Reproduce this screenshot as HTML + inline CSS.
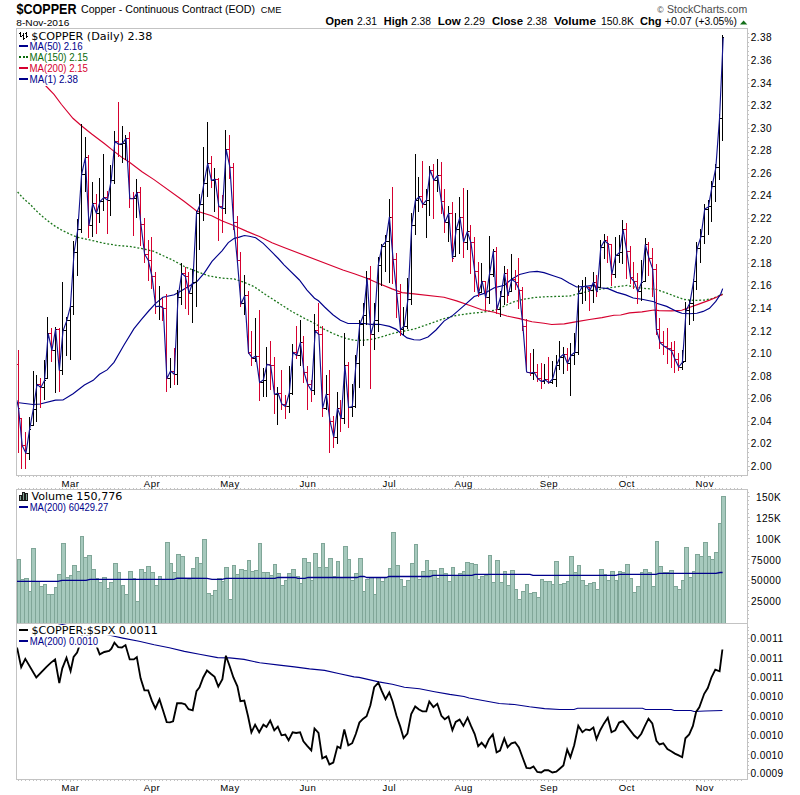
<!DOCTYPE html>
<html><head><meta charset="utf-8"><title>$COPPER - StockCharts</title>
<style>html,body{margin:0;padding:0;background:#fff}svg text{font-family:"Liberation Sans",Arial,sans-serif}</style>
</head><body>
<svg width="800" height="795" viewBox="0 0 800 795" style="display:block;font-family:'Liberation Sans',Arial,sans-serif">
<rect width="800" height="795" fill="#fff"/>
<defs>
<clipPath id="c1"><rect x="17" y="29" width="730" height="446"/></clipPath>
<clipPath id="c3"><rect x="17" y="623.5" width="730" height="155"/></clipPath>
</defs>
<g clip-path="url(#c1)">
<polyline points="17.6,192.0 24.1,199.2 30.1,204.2 35.7,210.3 41.2,215.3 47.2,220.4 53.8,225.4 60.3,229.4 67.4,232.9 71.9,235.0 77.3,237.2 91.7,240.4 104.3,243.3 116.9,245.4 129.5,246.4 142.0,248.6 154.0,251.4 159.2,253.9 171.7,259.6 184.3,266.5 196.9,271.6 209.2,276.0 221.7,278.1 234.3,279.0 244.4,282.4 254.4,286.8 265.4,294.5 278.0,302.6 290.6,310.8 303.2,317.7 315.8,324.0 321.5,327.9 332.9,333.5 344.2,337.9 354.3,340.4 364.3,340.2 374.4,338.9 384.4,336.0 394.5,332.9 404.6,331.0 414.0,329.1 429.0,324.0 444.0,318.6 456.6,315.4 469.2,313.5 481.7,312.3 494.3,310.4 504.4,306.0 514.4,301.6 524.5,299.1 534.6,297.5 544.0,296.8 554.0,296.5 569.1,296.1 579.2,293.6 591.7,290.5 604.3,288.6 616.9,286.7 627.0,285.4 634.5,287.0 646.6,288.6 655.4,289.1 665.4,292.6 675.5,296.4 684.3,299.5 694.4,300.4 704.4,300.1 712.0,298.6 719.5,295.7 722.7,294.1" fill="none" stroke="#1a751a" stroke-width="1.3" stroke-dasharray="1.9,1.9"/>
<polyline points="16.5,50.0 45.0,85.0 54.0,94.4 61.5,104.5 72.9,118.3 81.4,125.8 91.7,134.0 104.3,143.5 114.4,151.6 122.6,157.9 129.5,162.3 142.0,171.8 154.0,179.6 184.0,201.3 196.6,211.0 211.7,215.7 221.7,220.8 234.3,225.8 246.9,231.4 259.5,236.5 272.0,242.8 284.0,247.5 342.9,270.0 354.3,273.8 366.8,278.2 379.4,283.8 392.0,288.9 402.1,292.6 414.0,293.9 444.0,297.2 456.6,300.9 469.2,305.3 481.7,309.7 494.3,312.3 506.9,316.0 519.5,318.6 532.0,321.7 544.0,323.2 551.7,324.5 564.3,323.9 576.9,321.6 589.5,319.5 602.0,317.6 614.0,315.3 620.7,315.0 629.5,312.9 642.0,311.9 654.0,310.0 659.2,310.6 671.7,310.8 681.8,310.2 690.6,307.0 699.4,303.9 709.5,300.1 717.0,297.0 722.7,294.5" fill="none" stroke="#d6002f" stroke-width="1.15"/>
<polyline points="16.5,402.4 33.0,404.5 40.0,404.0 55.5,400.1 63.0,400.0 73.1,393.8 84.4,385.0 93.2,380.3 99.5,374.3 107.1,369.9 114.0,362.4 124.0,345.0 134.0,328.7 141.5,319.3 149.1,310.5 155.4,303.6 162.9,297.3 174.3,294.8 181.8,290.4 189.3,286.0 196.9,281.6 204.4,272.8 212.0,261.4 222.0,250.8 228.3,242.6 234.3,238.4 239.3,237.1 244.4,235.5 249.4,236.2 255.7,237.7 263.2,243.4 272.0,252.2 278.3,258.5 284.0,264.8 299.4,280.0 307.0,290.1 314.5,298.2 318.5,300.8 324.6,307.0 332.9,314.7 340.4,320.3 348.0,323.5 356.8,323.5 364.3,323.5 370.6,324.3 379.4,324.3 389.5,326.4 395.8,329.1 402.1,334.2 407.1,337.9 414.0,339.8 420.0,340.0 428.0,337.0 436.0,330.0 444.0,321.1 452.8,315.4 462.9,306.6 474.2,296.5 484.3,293.4 494.3,287.7 504.4,285.2 511.9,278.9 519.5,274.5 529.5,272.0 537.1,271.4 544.0,272.6 554.0,276.0 561.5,278.5 569.1,282.9 576.6,287.0 585.4,286.4 593.0,285.4 600.5,287.7 608.1,288.6 616.9,292.4 625.7,294.9 633.2,298.0 642.0,299.3 654.0,301.8 656.6,303.3 666.7,306.4 676.8,311.4 681.8,313.3 689.3,313.7 696.9,313.3 703.2,311.4 709.5,308.3 715.8,301.4 720.8,293.8 722.7,288.6" fill="none" stroke="#00008b" stroke-width="1.15"/>
<path d="M18.5 350.1V452.7M16.0 364.5H18.5M18.5 408.5H20.0M21.5 418.0V468.8M19.0 418.5H21.5M21.5 445.5H23.0M25.5 432.2V468.8M23.0 445.5H25.5M25.5 453.5H27.0M40.5 378.0V407.7M38.0 384.5H40.5M40.5 387.5H42.0M51.5 327.8V361.8M49.0 333.5H51.5M51.5 350.5H53.0M59.5 327.8V392.0M57.0 329.5H59.5M59.5 370.5H61.0M88.5 155.0V237.6M86.0 157.5H88.5M88.5 225.5H90.0M96.5 193.8V233.5M94.0 203.5H96.5M96.5 213.5H98.0M107.5 190.7V233.5M105.0 197.5H107.5M107.5 200.5H109.0M118.5 102.2V156.7M116.0 141.5H118.5M118.5 144.5H120.0M129.5 132.1V207.7M127.0 138.5H129.5M129.5 198.5H131.0M133.5 192.0V235.7M131.0 198.5H133.5M133.5 198.5H135.0M140.5 186.9V245.5M138.0 192.5H140.5M140.5 224.5H142.0M144.5 218.1V262.7M142.0 224.5H144.5M144.5 254.5H146.0M148.5 240.0V280.7M146.0 254.5H148.5M148.5 260.5H150.0M151.5 237.0V288.5M149.0 260.5H151.5M151.5 276.5H153.0M155.5 272.1V313.7M153.0 276.5H155.5M155.5 306.5H157.0M162.5 297.9V320.7M160.0 306.5H162.5M162.5 308.5H164.0M166.5 294.2V391.8M164.0 308.5H166.5M166.5 378.5H168.0M174.5 347.7V384.8M172.0 371.5H174.5M174.5 374.5H176.0M185.5 267.1V309.0M183.0 273.5H185.5M185.5 276.5H187.0M188.5 272.1V314.9M186.0 276.5H188.5M188.5 293.5H190.0M211.5 155.9V187.7M209.0 163.5H211.5M211.5 180.5H213.0M218.5 177.9V240.9M216.0 179.5H218.5M218.5 206.5H220.0M222.5 194.9V233.0M220.0 206.5H222.5M222.5 208.5H224.0M229.5 134.9V178.6M227.0 149.5H229.5M229.5 167.5H231.0M233.5 162.8V229.6M231.0 167.5H233.5M233.5 222.5H235.0M237.5 216.1V262.0M235.0 222.5H237.5M237.5 260.5H239.0M240.5 252.2V306.8M238.0 260.5H240.5M240.5 303.5H242.0M248.5 291.1V353.6M246.0 295.5H248.5M248.5 352.5H250.0M251.5 330.9V365.8M249.0 352.5H251.5M251.5 358.5H253.0M259.5 309.9V400.5M257.0 356.5H259.5M259.5 382.5H261.0M270.5 341.0V389.6M268.0 364.5H270.5M270.5 365.5H272.0M274.5 357.0V413.5M272.0 365.5H274.5M274.5 394.5H276.0M281.5 370.0V409.7M279.0 393.5H281.5M281.5 404.5H283.0M285.5 395.2V418.5M283.0 404.5H285.5M285.5 406.5H287.0M296.5 325.9V359.0M294.0 352.5H296.5M296.5 355.5H298.0M303.5 336.0V382.6M301.0 342.5H303.5M303.5 372.5H305.0M307.5 366.0V409.7M305.0 372.5H307.5M307.5 384.5H309.0M311.5 379.5V401.5M309.0 384.5H311.5M311.5 390.5H313.0M318.5 302.9V335.3M316.0 330.5H318.5M318.5 334.5H320.0M322.5 325.9V416.6M320.0 334.5H322.5M322.5 408.5H324.0M329.5 370.0V452.8M327.0 394.5H329.5M329.5 421.5H331.0M333.5 416.0V447.5M331.0 421.5H333.5M333.5 437.5H335.0M340.5 400.3V431.7M338.0 408.5H340.5M340.5 418.5H342.0M348.5 362.0V427.7M346.0 365.5H348.5M348.5 407.5H350.0M370.5 266.1V388.7M368.0 278.5H370.5M370.5 334.5H372.0M392.5 187.2V284.3M390.0 217.5H392.5M392.5 259.5H394.0M396.5 252.9V317.8M394.0 259.5H396.5M396.5 293.5H398.0M400.5 284.0V335.7M398.0 293.5H400.5M400.5 329.5H402.0M422.5 160.8V207.7M420.0 196.5H422.5M422.5 204.5H424.0M433.5 164.0V218.5M431.0 170.5H433.5M433.5 180.5H435.0M441.5 162.1V213.5M439.0 175.5H441.5M441.5 201.5H443.0M444.5 188.9V233.4M442.0 201.5H444.5M444.5 222.5H446.0M452.5 202.0V262.4M450.0 213.5H452.5M452.5 258.5H454.0M463.5 187.8V257.5M461.0 217.5H463.5M463.5 242.5H465.0M470.5 225.0V273.7M468.0 231.5H470.5M470.5 242.5H472.0M474.5 237.2V291.5M472.0 242.5H474.5M474.5 271.5H476.0M478.5 262.3V297.2M476.0 271.5H478.5M478.5 293.5H480.0M485.5 280.8V309.7M483.0 281.5H485.5M485.5 297.5H487.0M496.5 247.0V314.2M494.0 251.5H496.5M496.5 309.5H498.0M507.5 269.1V302.6M505.0 273.5H507.5M507.5 295.5H509.0M515.5 270.1V290.0M513.0 279.5H515.5M515.5 282.5H517.0M518.5 258.1V308.5M516.0 282.5H518.5M518.5 290.5H520.0M522.5 287.1V330.5M520.0 290.5H522.5M522.5 326.5H524.0M526.5 318.9V372.3M524.0 326.5H526.5M526.5 372.5H528.0M530.5 352.8V375.5M528.0 372.5H530.5M530.5 373.5H532.0M537.5 363.9V381.8M535.0 372.5H537.5M537.5 378.5H539.0M541.5 362.9V388.7M539.0 378.5H541.5M541.5 381.5H543.0M548.5 356.9V383.6M546.0 379.5H548.5M548.5 382.5H550.0M567.5 348.1V370.7M565.0 354.5H567.5M567.5 363.5H569.0M589.5 287.3V310.8M587.0 287.5H589.5M589.5 290.5H591.0M596.5 275.1V297.4M594.0 282.5H596.5M596.5 291.5H598.0M607.5 236.1V262.5M605.0 240.5H607.5M607.5 243.5H609.0M611.5 244.9V285.7M609.0 244.5H611.5M611.5 274.5H613.0M626.5 223.2V278.5M624.0 229.5H626.5M626.5 251.5H628.0M630.5 245.8V283.6M628.0 251.5H630.5M630.5 277.5H632.0M633.5 262.2V288.6M631.0 277.5H633.5M633.5 281.5H635.0M637.5 273.1V303.7M635.0 281.5H637.5M637.5 291.5H639.0M648.5 242.0V276.0M646.0 244.5H648.5M648.5 258.5H650.0M652.5 248.0V297.4M650.0 258.5H652.5M652.5 269.5H654.0M656.5 264.0V335.3M654.0 269.5H656.5M656.5 329.5H658.0M659.5 318.4V349.4M657.0 329.5H659.5M659.5 342.5H661.0M663.5 330.9V354.5M661.0 342.5H663.5M663.5 346.5H665.0M667.5 328.1V364.3M665.0 346.5H667.5M667.5 348.5H669.0M671.5 342.3V368.4M669.0 348.5H671.5M671.5 350.5H673.0M674.5 341.3V372.5M672.0 350.5H674.5M674.5 359.5H676.0M678.5 353.0V370.6M676.0 359.5H678.5M678.5 367.5H680.0" stroke="#d6002f" stroke-width="1" fill="none" shape-rendering="crispEdges"/>
<path d="M29.5 417.1V459.5M27.0 453.5H29.5M29.5 429.5H31.0M33.5 371.0V425.7M31.0 425.5H33.5M33.5 409.5H35.0M36.5 375.2V421.5M34.0 409.5H36.5M36.5 384.5H38.0M44.5 359.9V399.7M42.0 387.5H44.5M44.5 380.5H46.0M47.5 317.1V378.7M45.0 378.5H47.5M47.5 333.5H49.0M55.5 327.2V392.6M53.0 350.5H55.5M55.5 329.5H57.0M62.5 281.9V374.6M60.0 370.5H62.5M62.5 330.5H64.0M66.5 316.5V355.8M64.0 330.5H66.5M66.5 320.5H68.0M70.5 304.0V359.5M68.0 320.5H70.5M70.5 306.5H72.0M73.5 241.0V314.6M71.0 306.5H73.5M73.5 252.5H75.0M77.5 219.2V275.6M75.0 252.5H77.5M77.5 229.5H79.0M81.5 124.0V232.6M79.0 229.5H81.5M81.5 174.5H83.0M85.5 137.2V191.6M83.0 174.5H85.5M85.5 157.5H87.0M92.5 182.1V236.6M90.0 225.5H92.5M92.5 203.5H94.0M99.5 178.1V222.5M97.0 213.5H99.5M99.5 201.5H101.0M103.5 154.2V211.4M101.0 201.5H103.5M103.5 197.5H105.0M110.5 165.1V215.8M108.0 200.5H110.5M110.5 180.5H112.0M114.5 130.9V183.7M112.0 180.5H114.5M114.5 141.5H116.0M122.5 126.1V162.7M120.0 144.5H122.5M122.5 143.5H124.0M125.5 135.0V160.4M123.0 143.5H125.5M125.5 138.5H127.0M136.5 178.9V217.7M134.0 198.5H136.5M136.5 192.5H138.0M159.5 286.0V319.5M157.0 306.5H159.5M159.5 306.5H161.0M170.5 357.8V387.7M168.0 378.5H170.5M170.5 371.5H172.0M177.5 290.1V384.8M175.0 374.5H177.5M177.5 297.5H179.0M181.5 263.3V304.8M179.0 297.5H181.5M181.5 273.5H183.0M192.5 269.0V322.7M190.0 293.5H192.5M192.5 282.5H194.0M196.5 210.7V306.7M194.0 282.5H196.5M196.5 213.5H198.0M199.5 194.0V249.7M197.0 213.5H199.5M199.5 204.5H201.0M203.5 146.9V220.8M201.0 204.5H203.5M203.5 183.5H205.0M207.5 121.9V196.8M205.0 183.5H207.5M207.5 163.5H209.0M214.5 167.9V212.0M212.0 180.5H214.5M214.5 179.5H216.0M225.5 129.7V213.6M223.0 208.5H225.5M225.5 149.5H227.0M244.5 275.1V314.6M242.0 303.5H244.5M244.5 295.5H246.0M255.5 317.7V361.8M253.0 358.5H255.5M255.5 356.5H257.0M263.5 368.2V396.7M261.0 382.5H263.5M263.5 380.5H265.0M266.5 347.0V396.7M264.0 380.5H266.5M266.5 364.5H268.0M277.5 387.0V424.5M275.0 394.5H277.5M277.5 393.5H279.0M289.5 366.0V412.6M287.0 406.5H289.5M289.5 393.5H291.0M292.5 343.9V394.6M290.0 393.5H292.5M292.5 352.5H294.0M300.5 320.0V365.8M298.0 355.5H300.5M300.5 342.5H302.0M314.5 314.0V394.6M312.0 390.5H314.5M314.5 330.5H316.0M326.5 375.1V409.7M324.0 408.5H326.5M326.5 394.5H328.0M337.5 392.1V443.6M335.0 437.5H337.5M337.5 408.5H339.0M344.5 332.9V423.5M342.0 418.5H344.5M344.5 365.5H346.0M352.5 383.9V416.6M350.0 407.5H352.5M352.5 406.5H354.0M355.5 354.9V408.4M353.0 406.5H355.5M355.5 363.5H357.0M359.5 320.3V387.7M357.0 363.5H359.5M359.5 324.5H361.0M363.5 303.3V345.8M361.0 324.5H363.5M363.5 315.5H365.0M366.5 271.2V325.3M364.0 315.5H366.5M366.5 278.5H368.0M374.5 303.3V349.5M372.0 334.5H374.5M374.5 320.5H376.0M378.5 257.3V331.6M376.0 320.5H378.5M378.5 265.5H380.0M381.5 244.0V285.6M379.0 265.5H381.5M381.5 246.5H383.0M385.5 235.3V271.8M383.0 246.5H385.5M385.5 241.5H387.0M389.5 198.8V282.8M387.0 241.5H389.5M389.5 217.5H391.0M403.5 307.1V335.4M401.0 329.5H403.5M403.5 326.5H405.0M407.5 278.1V329.1M405.0 326.5H407.5M407.5 299.5H409.0M411.5 213.2V304.6M409.0 299.5H411.5M411.5 225.5H413.0M415.5 153.9V234.7M413.0 225.5H415.5M415.5 200.5H417.0M418.5 177.2V211.6M416.0 200.5H418.5M418.5 196.5H420.0M426.5 189.1V238.4M424.0 204.5H426.5M426.5 200.5H428.0M429.5 166.2V215.9M427.0 200.5H429.5M429.5 170.5H431.0M437.5 158.9V191.6M435.0 180.5H437.5M437.5 175.5H439.0M448.5 206.2V242.4M446.0 222.5H448.5M448.5 213.5H450.0M455.5 213.0V256.0M453.0 256.5H455.5M455.5 229.5H457.0M459.5 197.0V253.6M457.0 229.5H459.5M459.5 217.5H461.0M467.5 190.1V250.4M465.0 242.5H467.5M467.5 231.5H469.0M481.5 263.1V292.8M479.0 292.5H481.5M481.5 281.5H483.0M489.5 236.2V303.5M487.0 297.5H489.5M489.5 274.5H491.0M493.5 248.9V276.6M491.0 274.5H493.5M493.5 251.5H495.0M500.5 290.9V317.3M498.0 309.5H500.5M500.5 296.5H502.0M504.5 266.1V305.3M502.0 296.5H504.5M504.5 273.5H506.0M511.5 254.2V291.5M509.0 291.5H511.5M511.5 279.5H513.0M533.5 349.1V379.9M531.0 373.5H533.5M533.5 372.5H535.0M544.5 363.9V383.6M542.0 381.5H544.5M544.5 379.5H546.0M552.5 361.0V383.6M550.0 382.5H552.5M552.5 379.5H554.0M556.5 354.7V386.8M554.0 379.5H556.5M556.5 365.5H558.0M559.5 340.9V369.8M557.0 365.5H559.5M559.5 357.5H561.0M563.5 347.2V373.6M561.0 357.5H563.5M563.5 354.5H565.0M570.5 343.0V395.6M568.0 363.5H570.5M570.5 355.5H572.0M574.5 333.0V364.8M572.0 355.5H574.5M574.5 352.5H576.0M578.5 284.8V354.7M576.0 352.5H578.5M578.5 293.5H580.0M582.5 280.2V303.7M580.0 293.5H582.5M582.5 286.5H584.0M585.5 276.9V300.5M583.0 286.5H585.5M585.5 286.5H587.0M593.5 272.0V302.8M591.0 290.5H593.5M593.5 282.5H595.0M600.5 239.9V287.3M598.0 287.5H600.5M600.5 247.5H602.0M604.5 234.1V258.8M602.0 247.5H604.5M604.5 240.5H606.0M615.5 237.0V277.6M613.0 274.5H615.5M615.5 255.5H617.0M619.5 234.9V262.8M617.0 255.5H619.5M619.5 252.5H621.0M622.5 220.0V263.8M620.0 252.5H622.5M622.5 229.5H624.0M641.5 259.7V300.5M639.0 291.5H641.5M641.5 282.5H643.0M645.5 238.0V281.7M643.0 281.5H645.5M645.5 244.5H647.0M682.5 350.4V370.3M680.0 367.5H682.5M682.5 362.5H684.0M685.5 302.4V361.5M683.0 361.5H685.5M685.5 310.5H687.0M689.5 299.5V324.7M687.0 310.5H689.5M689.5 303.5H691.0M693.5 278.6V320.5M691.0 303.5H693.5M693.5 281.5H695.0M696.5 242.1V289.9M694.0 281.5H696.5M696.5 248.5H698.0M700.5 229.2V262.6M698.0 248.5H700.5M700.5 236.5H702.0M704.5 203.8V243.8M702.0 236.5H704.5M704.5 209.5H706.0M708.5 199.9V234.6M706.0 209.5H708.5M708.5 206.5H710.0M711.5 181.1V221.6M709.0 206.5H711.5M711.5 186.5H713.0M715.5 163.8V201.6M713.0 186.5H715.5M715.5 167.5H717.0M719.5 114.0V179.8M717.0 167.5H719.5M719.5 118.5H721.0M722.5 35.3V140.8M720.0 118.5H722.5M722.5 37.5H724.0" stroke="#000" stroke-width="1" fill="none" shape-rendering="crispEdges"/>
<polyline points="16.8,400.0 18.5,408.0 22.2,445.4 25.9,453.3 29.6,429.4 33.3,409.0 37.0,384.4 40.8,387.5 44.5,380.6 48.2,333.5 51.9,350.4 55.6,329.0 59.3,370.3 63.0,330.9 66.7,320.9 70.4,306.4 74.1,252.0 77.8,229.7 81.6,174.3 85.3,157.9 89.0,225.3 92.7,203.5 96.4,213.3 100.1,201.4 103.8,197.6 107.5,200.1 111.2,180.3 114.9,141.3 118.6,144.3 122.4,143.5 126.1,138.4 129.8,198.6 133.5,198.8 137.2,192.6 140.9,224.0 144.6,254.3 148.3,260.3 152.0,276.5 155.7,306.7 159.4,306.1 163.2,308.0 166.9,378.6 170.6,371.0 174.3,374.2 178.0,297.9 181.7,273.4 185.4,276.5 189.1,293.3 192.8,282.0 196.5,213.2 200.2,204.3 204.0,183.0 207.7,163.5 211.4,180.4 215.1,179.2 218.8,206.2 222.5,208.5 226.2,149.6 229.9,167.2 233.6,222.4 237.3,260.4 241.0,303.9 244.7,295.7 248.5,352.7 252.2,358.0 255.9,356.1 259.6,382.6 263.3,380.1 267.0,364.4 270.7,365.4 274.4,394.2 278.1,393.3 281.8,404.0 285.5,406.5 289.3,393.0 293.0,352.3 296.7,355.5 300.4,342.3 304.1,372.6 307.8,384.5 311.5,390.8 315.2,330.9 318.9,334.7 322.6,408.2 326.3,394.2 330.1,421.6 333.8,437.0 337.5,408.4 341.2,418.5 344.9,365.7 348.6,407.5 352.3,406.5 356.0,363.7 359.7,324.7 363.4,315.3 367.1,278.2 370.9,334.2 374.6,320.3 378.3,265.0 382.0,246.0 385.7,241.6 389.4,217.0 393.1,259.2 396.8,293.9 400.5,329.7 404.2,326.0 407.9,299.6 411.7,225.5 415.4,200.3 419.1,196.8 422.8,204.3 426.5,200.2 430.2,170.3 433.9,180.3 437.6,175.3 441.3,201.2 445.0,222.3 448.7,213.2 452.5,258.1 456.2,229.5 459.9,217.4 463.6,242.0 467.3,231.6 471.0,242.9 474.7,271.4 478.4,293.4 482.1,281.4 485.8,297.8 489.5,274.2 493.3,251.4 497.0,309.1 500.7,296.5 504.4,273.4 508.1,295.3 511.8,279.6 515.5,282.0 519.2,290.0 522.9,326.1 526.6,372.0 530.3,373.0 534.1,372.3 537.8,378.6 541.5,381.5 545.2,379.9 548.9,382.8 552.6,379.0 556.3,365.4 560.0,357.2 563.7,354.3 567.4,363.3 571.1,355.3 574.9,352.2 578.6,293.0 582.3,286.7 586.0,286.1 589.7,290.8 593.4,282.3 597.1,291.7 600.8,247.1 604.5,240.8 608.2,243.7 611.9,274.1 615.6,255.9 619.4,252.7 623.1,229.8 626.8,251.5 630.5,277.3 634.2,281.7 637.9,291.7 641.6,282.3 645.3,244.6 649.0,258.4 652.7,269.1 656.4,329.7 660.2,342.9 663.9,346.0 667.6,348.6 671.3,350.4 675.0,359.2 678.7,367.0 682.4,362.4 686.1,310.2 689.8,303.3 693.5,281.8 697.2,248.4 701.0,236.5 704.7,209.1 708.4,206.9 712.1,186.1 715.8,167.9 719.5,118.7 723.2,37.6" fill="none" stroke="#14148f" stroke-width="1.15" stroke-linejoin="round"/>
</g>
<rect x="17" y="29" width="137" height="13" fill="#fff"/>
<rect x="17" y="42" width="73" height="44" fill="#fff"/>
<path d="M17 623.0V559.2H20V623.0M20 623.0V579.3H24V623.0M24 623.0V578.2H28V623.0M28 623.0V591.3H31V623.0M31 623.0V548.2H35V623.0M35 623.0V581.6H39V623.0M39 623.0V586.4H43V623.0M43 623.0V584.3H46V623.0M46 623.0V594.4H50V623.0M50 623.0V594.4H54V623.0M54 623.0V587.2H57V623.0M57 623.0V574.3H61V623.0M61 623.0V543.2H65V623.0M65 623.0V577.2H69V623.0M69 623.0V575.3H72V623.0M72 623.0V565.2H76V623.0M76 623.0V571.3H80V623.0M80 623.0V536.0H83V623.0M83 623.0V557.0H87V623.0M87 623.0V555.2H91V623.0M91 623.0V569.2H95V623.0M95 623.0V578.2H98V623.0M98 623.0V582.6H102V623.0M102 623.0V577.2H106V623.0M106 623.0V588.5H109V623.0M109 623.0V582.2H113V623.0M113 623.0V563.3H117V623.0M117 623.0V572.5H120V623.0M121 623.0V585.3H124V623.0M124 623.0V594.4H128V623.0M128 623.0V571.3H132V623.0M132 623.0V578.4H135V623.0M135 623.0V601.4H139V623.0M139 623.0V569.4H143V623.0M143 623.0V572.5H146V623.0M146 623.0V566.5H150V623.0M150 623.0V572.5H154V623.0M154 623.0V585.3H158V623.0M158 623.0V576.3H161V623.0M161 623.0V579.7H165V623.0M165 623.0V542.3H169V623.0M169 623.0V563.3H172V623.0M172 623.0V572.5H176V623.0M176 623.0V554.3H180V623.0M180 623.0V556.4H184V623.0M184 623.0V578.8H187V623.0M187 623.0V579.1H191V623.0M191 623.0V568.4H195V623.0M195 623.0V557.3H198V623.0M198 623.0V563.3H202V623.0M202 623.0V539.1H206V623.0M206 623.0V593.3H210V623.0M210 623.0V595.4H213V623.0M213 623.0V590.4H217V623.0M217 623.0V578.4H221V623.0M221 623.0V581.3H224V623.0M224 623.0V567.4H228V623.0M228 623.0V599.2H232V623.0M232 623.0V565.5H235V623.0M235 623.0V574.3H239V623.0M239 623.0V569.4H243V623.0M243 623.0V570.3H247V623.0M247 623.0V560.2H250V623.0M250 623.0V571.3H254V623.0M254 623.0V570.3H258V623.0M258 623.0V543.2H261V623.0M261 623.0V572.5H265V623.0M265 623.0V572.5H269V623.0M269 623.0V575.3H273V623.0M273 623.0V564.2H276V623.0M276 623.0V573.4H280V623.0M280 623.0V585.1H284V623.0M284 623.0V580.3H287V623.0M287 623.0V573.4H291V623.0M291 623.0V569.4H295V623.0M295 623.0V576.3H299V623.0M299 623.0V583.5H302V623.0M302 623.0V558.3H306V623.0M306 623.0V562.5H310V623.0M310 623.0V580.3H313V623.0M313 623.0V553.3H317V623.0M317 623.0V567.4H321V623.0M321 623.0V543.2H324V623.0M324 623.0V567.4H328V623.0M328 623.0V558.3H332V623.0M332 623.0V576.5H336V623.0M336 623.0V561.4H339V623.0M339 623.0V577.5H343V623.0M343 623.0V546.4H347V623.0M347 623.0V559.6H350V623.0M350 623.0V580.3H354V623.0M354 623.0V573.4H358V623.0M358 623.0V558.3H362V623.0M362 623.0V591.4H365V623.0M365 623.0V579.4H369V623.0M369 623.0V577.8H373V623.0M373 623.0V594.4H376V623.0M376 623.0V577.8H380V623.0M380 623.0V581.3H384V623.0M384 623.0V577.5H388V623.0M388 623.0V568.4H391V623.0M391 623.0V532.3H395V623.0M395 623.0V565.5H399V623.0M399 623.0V579.4H402V623.0M402 623.0V586.4H406V623.0M406 623.0V580.3H410V623.0M410 623.0V563.3H414V623.0M414 623.0V544.5H417V623.0M417 623.0V579.4H421V623.0M421 623.0V571.3H425V623.0M425 623.0V560.4H428V623.0M428 623.0V570.5H432V623.0M432 623.0V570.5H436V623.0M436 623.0V578.4H439V623.0M439 623.0V568.4H443V623.0M443 623.0V573.4H447V623.0M447 623.0V581.3H451V623.0M451 623.0V567.4H454V623.0M454 623.0V575.3H458V623.0M458 623.0V573.4H462V623.0M462 623.0V571.3H465V623.0M465 623.0V562.5H469V623.0M469 623.0V563.3H473V623.0M473 623.0V564.2H477V623.0M477 623.0V579.4H480V623.0M480 623.0V576.5H484V623.0M484 623.0V575.3H488V623.0M488 623.0V555.4H491V623.0M491 623.0V582.6H495V623.0M495 623.0V560.4H499V623.0M499 623.0V582.6H503V623.0M503 623.0V571.3H506V623.0M506 623.0V585.3H510V623.0M510 623.0V570.3H514V623.0M514 623.0V589.4H517V623.0M517 623.0V599.2H521V623.0M521 623.0V591.4H525V623.0M525 623.0V584.3H528V623.0M528 623.0V593.5H532V623.0M532 623.0V592.3H536V623.0M536 623.0V597.5H540V623.0M540 623.0V579.4H543V623.0M543 623.0V581.3H547V623.0M547 623.0V581.3H551V623.0M551 623.0V584.3H554V623.0M554 623.0V561.4H558V623.0M558 623.0V584.3H562V623.0M562 623.0V583.5H566V623.0M566 623.0V581.3H569V623.0M569 623.0V556.4H573V623.0M573 623.0V572.5H577V623.0M577 623.0V565.5H580V623.0M580 623.0V580.3H584V623.0M584 623.0V585.3H588V623.0M588 623.0V583.5H592V623.0M592 623.0V582.2H595V623.0M595 623.0V589.4H599V623.0M599 623.0V569.4H603V623.0M603 623.0V574.3H606V623.0M606 623.0V580.3H610V623.0M610 623.0V571.3H614V623.0M614 623.0V580.3H617V623.0M618 623.0V571.3H621V623.0M621 623.0V572.5H625V623.0M625 623.0V564.2H629V623.0M629 623.0V578.4H632V623.0M632 623.0V592.3H636V623.0M636 623.0V586.4H640V623.0M640 623.0V572.5H643V623.0M643 623.0V569.4H647V623.0M647 623.0V572.5H651V623.0M651 623.0V586.4H655V623.0M655 623.0V541.3H658V623.0M658 623.0V566.5H662V623.0M662 623.0V572.5H666V623.0M666 623.0V572.5H669V623.0M669 623.0V570.3H673V623.0M673 623.0V586.6H677V623.0M677 623.0V589.4H681V623.0M681 623.0V580.3H684V623.0M684 623.0V547.2H688V623.0M688 623.0V577.5H692V623.0M692 623.0V571.3H695V623.0M695 623.0V554.3H699V623.0M699 623.0V556.4H703V623.0M703 623.0V542.3H707V623.0M707 623.0V556.4H710V623.0M710 623.0V559.6H714V623.0M714 623.0V552.4H718V623.0M718 623.0V523.3H721V623.0M721 623.0V496.2H725V623.0" fill="#a6c9bd" stroke="#80a698" stroke-width="1" shape-rendering="crispEdges"/>
<polyline points="16.5,581.4 58.0,581.4 62.0,580.3 86.0,580.3 90.0,579.3 174.0,579.3 177.0,578.2 207.0,578.4 212.0,579.3 222.0,579.3 226.0,578.4 275.0,578.4 278.0,577.5 295.0,577.5 298.0,578.4 305.0,578.4 308.0,577.5 357.0,577.5 360.0,576.5 364.0,576.5 367.0,577.5 386.0,577.5 389.0,576.5 430.0,576.5 433.0,575.3 472.0,575.3 475.0,574.3 530.0,574.3 533.0,575.3 616.0,575.3 619.0,574.3 656.0,574.3 659.0,573.4 716.0,573.4 720.0,572.5 722.6,572.5" fill="none" stroke="#00008b" stroke-width="1.3"/>
<g clip-path="url(#c3)">
<polyline points="16.5,614.0 60.0,624.0 112.0,635.8 122.7,638.1 139.1,641.3 154.2,644.8 169.3,647.8 184.4,651.4 199.5,654.2 217.6,657.6 229.7,657.9 244.0,659.4 259.7,662.8 279.3,665.1 294.4,666.9 309.5,668.9 324.6,670.4 339.7,673.8 354.0,676.9 359.1,677.4 378.7,681.9 392.3,684.2 404.4,687.2 419.5,688.7 434.6,691.7 449.7,694.4 464.0,696.5 469.1,698.0 484.2,700.8 499.3,703.5 514.4,704.5 529.5,706.8 544.6,708.6 559.7,709.5 574.0,709.5 577.6,708.3 642.5,708.3 645.5,709.5 671.2,709.5 674.2,710.5 691.0,710.5 694.0,711.5 705.0,711.0 722.4,710.5" fill="none" stroke="#00008b" stroke-width="1.1"/>
<polyline points="16.8,646.0 17.3,648.7 21.2,667.1 25.3,658.9 36.3,677.4 46.5,666.8 51.0,662.6 55.1,659.5 59.3,683.1 62.3,668.3 66.5,657.7 70.6,671.0 73.6,657.0 77.1,652.5 78.9,647.2 81.6,636.0 85.3,630.0 89.0,640.0 92.7,638.0 96.4,644.0 97.0,647.2 99.7,654.4 104.3,652.0 109.1,650.9 111.4,648.7 114.4,642.6 118.2,647.2 121.9,647.5 125.5,645.1 129.7,659.4 133.8,659.4 136.8,657.2 140.6,678.3 144.4,690.4 148.2,690.4 151.9,700.9 155.4,708.5 159.5,699.4 162.9,710.0 166.7,722.1 170.0,722.4 173.1,721.3 177.1,703.2 181.4,703.2 185.1,704.3 188.6,709.2 192.7,710.3 196.5,691.1 199.5,687.4 203.2,677.5 207.0,670.5 210.8,673.8 214.6,676.8 218.3,686.6 222.4,679.1 225.9,655.7 229.7,666.2 233.4,677.5 237.4,686.4 240.4,701.2 244.3,700.6 248.0,716.0 251.4,732.3 255.1,724.7 259.2,732.3 263.4,724.7 266.5,727.0 270.2,720.6 274.3,730.3 277.8,726.7 281.5,735.3 285.3,734.5 288.6,740.3 292.6,732.3 296.2,733.0 300.1,732.3 303.4,741.3 307.2,745.8 311.3,750.4 314.5,728.5 318.5,733.0 322.3,758.4 326.1,756.4 329.4,764.4 333.3,762.5 337.4,746.6 340.4,748.1 344.3,729.5 348.3,745.3 352.2,743.2 355.8,734.0 359.4,722.6 362.9,718.9 366.6,716.2 370.4,705.3 374.2,687.2 378.4,682.6 381.7,690.9 385.5,699.2 389.3,692.5 392.6,701.5 396.5,715.8 400.2,726.4 403.6,738.2 407.4,733.7 411.2,714.0 415.2,706.5 419.0,709.5 422.5,711.3 426.3,711.3 429.3,701.5 433.4,707.1 437.3,703.8 441.4,715.8 444.8,719.2 448.5,716.6 452.4,730.2 455.7,721.9 459.6,719.6 463.4,725.9 467.6,717.7 470.9,725.7 474.7,734.0 478.2,746.3 481.6,742.7 485.4,747.2 489.0,739.2 492.8,734.4 496.6,752.4 500.0,750.6 504.3,738.5 507.6,747.2 511.4,743.3 515.1,742.3 518.9,747.5 522.7,757.8 526.5,767.9 530.2,768.4 533.5,766.4 537.3,772.0 541.2,772.5 544.6,770.2 548.3,770.2 552.4,772.5 556.3,771.7 559.7,768.7 563.4,765.4 567.2,749.6 570.4,757.4 574.2,745.3 578.3,725.7 582.4,732.2 585.9,729.4 589.7,730.2 593.4,727.6 596.5,739.2 600.2,730.2 604.0,723.4 607.8,717.7 611.5,732.2 615.3,730.2 619.1,722.6 622.9,721.1 626.6,725.7 630.4,730.6 634.2,735.5 637.5,738.5 641.3,733.7 644.8,726.1 648.5,718.6 652.3,723.4 656.4,740.8 659.5,744.5 663.3,743.3 667.4,749.1 671.2,751.3 674.9,753.6 678.7,755.4 682.2,757.2 685.4,738.3 689.2,734.4 692.9,725.9 696.1,712.0 699.3,707.3 704.2,693.8 707.8,688.0 711.5,677.3 715.3,669.6 719.6,671.3 722.4,649.5" fill="none" stroke="#000" stroke-width="1.85" stroke-linejoin="miter"/>
</g>
<rect x="17" y="625" width="142" height="10.7" fill="#fff"/>
<rect x="17" y="635.7" width="81.5" height="11.8" fill="#fff"/>
<path d="M16.5 28.5H747.5V475.5H16.5ZM16.5 489.5H747.5V779.5H16.5ZM16.5 623.5H747.5" fill="none" stroke="#c3c3c3" stroke-width="1" shape-rendering="crispEdges"/>
<path d="M18.5 476v1M18.5 489v-1M18.5 780v1M21.5 476v1M21.5 489v-1M21.5 780v1M25.5 476v1M25.5 489v-1M25.5 780v1M29.5 476v1M29.5 489v-1M29.5 780v1M33.5 476v1M33.5 489v-1M33.5 780v1M36.5 476v1M36.5 489v-1M36.5 780v1M40.5 476v1M40.5 489v-1M40.5 780v1M44.5 476v1M44.5 489v-1M44.5 780v1M47.5 476v1M47.5 489v-1M47.5 780v1M51.5 476v1M51.5 489v-1M51.5 780v1M55.5 476v1M55.5 489v-1M55.5 780v1M59.5 476v1M59.5 489v-1M59.5 780v1M62.5 476v1M62.5 489v-1M62.5 780v1M66.5 476v1M66.5 489v-1M66.5 780v1M70.5 476v2M70.5 489v-2M70.5 780v2M73.5 476v1M73.5 489v-1M73.5 780v1M77.5 476v1M77.5 489v-1M77.5 780v1M81.5 476v1M81.5 489v-1M81.5 780v1M85.5 476v1M85.5 489v-1M85.5 780v1M88.5 476v1M88.5 489v-1M88.5 780v1M92.5 476v1M92.5 489v-1M92.5 780v1M96.5 476v1M96.5 489v-1M96.5 780v1M99.5 476v1M99.5 489v-1M99.5 780v1M103.5 476v1M103.5 489v-1M103.5 780v1M107.5 476v1M107.5 489v-1M107.5 780v1M110.5 476v1M110.5 489v-1M110.5 780v1M114.5 476v1M114.5 489v-1M114.5 780v1M118.5 476v1M118.5 489v-1M118.5 780v1M122.5 476v1M122.5 489v-1M122.5 780v1M125.5 476v1M125.5 489v-1M125.5 780v1M129.5 476v1M129.5 489v-1M129.5 780v1M133.5 476v1M133.5 489v-1M133.5 780v1M136.5 476v1M136.5 489v-1M136.5 780v1M140.5 476v1M140.5 489v-1M140.5 780v1M144.5 476v1M144.5 489v-1M144.5 780v1M148.5 476v1M148.5 489v-1M148.5 780v1M151.5 476v2M151.5 489v-2M151.5 780v2M155.5 476v1M155.5 489v-1M155.5 780v1M159.5 476v1M159.5 489v-1M159.5 780v1M162.5 476v1M162.5 489v-1M162.5 780v1M166.5 476v1M166.5 489v-1M166.5 780v1M170.5 476v1M170.5 489v-1M170.5 780v1M174.5 476v1M174.5 489v-1M174.5 780v1M177.5 476v1M177.5 489v-1M177.5 780v1M181.5 476v1M181.5 489v-1M181.5 780v1M185.5 476v1M185.5 489v-1M185.5 780v1M188.5 476v1M188.5 489v-1M188.5 780v1M192.5 476v1M192.5 489v-1M192.5 780v1M196.5 476v1M196.5 489v-1M196.5 780v1M199.5 476v1M199.5 489v-1M199.5 780v1M203.5 476v1M203.5 489v-1M203.5 780v1M207.5 476v1M207.5 489v-1M207.5 780v1M211.5 476v1M211.5 489v-1M211.5 780v1M214.5 476v1M214.5 489v-1M214.5 780v1M218.5 476v1M218.5 489v-1M218.5 780v1M222.5 476v1M222.5 489v-1M222.5 780v1M225.5 476v1M225.5 489v-1M225.5 780v1M229.5 476v2M229.5 489v-2M229.5 780v2M233.5 476v1M233.5 489v-1M233.5 780v1M237.5 476v1M237.5 489v-1M237.5 780v1M240.5 476v1M240.5 489v-1M240.5 780v1M244.5 476v1M244.5 489v-1M244.5 780v1M248.5 476v1M248.5 489v-1M248.5 780v1M251.5 476v1M251.5 489v-1M251.5 780v1M255.5 476v1M255.5 489v-1M255.5 780v1M259.5 476v1M259.5 489v-1M259.5 780v1M263.5 476v1M263.5 489v-1M263.5 780v1M266.5 476v1M266.5 489v-1M266.5 780v1M270.5 476v1M270.5 489v-1M270.5 780v1M274.5 476v1M274.5 489v-1M274.5 780v1M277.5 476v1M277.5 489v-1M277.5 780v1M281.5 476v1M281.5 489v-1M281.5 780v1M285.5 476v1M285.5 489v-1M285.5 780v1M289.5 476v1M289.5 489v-1M289.5 780v1M292.5 476v1M292.5 489v-1M292.5 780v1M296.5 476v1M296.5 489v-1M296.5 780v1M300.5 476v1M300.5 489v-1M300.5 780v1M303.5 476v1M303.5 489v-1M303.5 780v1M307.5 476v2M307.5 489v-2M307.5 780v2M311.5 476v1M311.5 489v-1M311.5 780v1M314.5 476v1M314.5 489v-1M314.5 780v1M318.5 476v1M318.5 489v-1M318.5 780v1M322.5 476v1M322.5 489v-1M322.5 780v1M326.5 476v1M326.5 489v-1M326.5 780v1M329.5 476v1M329.5 489v-1M329.5 780v1M333.5 476v1M333.5 489v-1M333.5 780v1M337.5 476v1M337.5 489v-1M337.5 780v1M340.5 476v1M340.5 489v-1M340.5 780v1M344.5 476v1M344.5 489v-1M344.5 780v1M348.5 476v1M348.5 489v-1M348.5 780v1M352.5 476v1M352.5 489v-1M352.5 780v1M355.5 476v1M355.5 489v-1M355.5 780v1M359.5 476v1M359.5 489v-1M359.5 780v1M363.5 476v1M363.5 489v-1M363.5 780v1M366.5 476v1M366.5 489v-1M366.5 780v1M370.5 476v1M370.5 489v-1M370.5 780v1M374.5 476v1M374.5 489v-1M374.5 780v1M378.5 476v1M378.5 489v-1M378.5 780v1M381.5 476v1M381.5 489v-1M381.5 780v1M385.5 476v1M385.5 489v-1M385.5 780v1M389.5 476v2M389.5 489v-2M389.5 780v2M392.5 476v1M392.5 489v-1M392.5 780v1M396.5 476v1M396.5 489v-1M396.5 780v1M400.5 476v1M400.5 489v-1M400.5 780v1M403.5 476v1M403.5 489v-1M403.5 780v1M407.5 476v1M407.5 489v-1M407.5 780v1M411.5 476v1M411.5 489v-1M411.5 780v1M415.5 476v1M415.5 489v-1M415.5 780v1M418.5 476v1M418.5 489v-1M418.5 780v1M422.5 476v1M422.5 489v-1M422.5 780v1M426.5 476v1M426.5 489v-1M426.5 780v1M429.5 476v1M429.5 489v-1M429.5 780v1M433.5 476v1M433.5 489v-1M433.5 780v1M437.5 476v1M437.5 489v-1M437.5 780v1M441.5 476v1M441.5 489v-1M441.5 780v1M444.5 476v1M444.5 489v-1M444.5 780v1M448.5 476v1M448.5 489v-1M448.5 780v1M452.5 476v1M452.5 489v-1M452.5 780v1M455.5 476v1M455.5 489v-1M455.5 780v1M459.5 476v1M459.5 489v-1M459.5 780v1M463.5 476v2M463.5 489v-2M463.5 780v2M467.5 476v1M467.5 489v-1M467.5 780v1M470.5 476v1M470.5 489v-1M470.5 780v1M474.5 476v1M474.5 489v-1M474.5 780v1M478.5 476v1M478.5 489v-1M478.5 780v1M481.5 476v1M481.5 489v-1M481.5 780v1M485.5 476v1M485.5 489v-1M485.5 780v1M489.5 476v1M489.5 489v-1M489.5 780v1M493.5 476v1M493.5 489v-1M493.5 780v1M496.5 476v1M496.5 489v-1M496.5 780v1M500.5 476v1M500.5 489v-1M500.5 780v1M504.5 476v1M504.5 489v-1M504.5 780v1M507.5 476v1M507.5 489v-1M507.5 780v1M511.5 476v1M511.5 489v-1M511.5 780v1M515.5 476v1M515.5 489v-1M515.5 780v1M518.5 476v1M518.5 489v-1M518.5 780v1M522.5 476v1M522.5 489v-1M522.5 780v1M526.5 476v1M526.5 489v-1M526.5 780v1M530.5 476v1M530.5 489v-1M530.5 780v1M533.5 476v1M533.5 489v-1M533.5 780v1M537.5 476v1M537.5 489v-1M537.5 780v1M541.5 476v1M541.5 489v-1M541.5 780v1M544.5 476v1M544.5 489v-1M544.5 780v1M548.5 476v2M548.5 489v-2M548.5 780v2M552.5 476v1M552.5 489v-1M552.5 780v1M556.5 476v1M556.5 489v-1M556.5 780v1M559.5 476v1M559.5 489v-1M559.5 780v1M563.5 476v1M563.5 489v-1M563.5 780v1M567.5 476v1M567.5 489v-1M567.5 780v1M570.5 476v1M570.5 489v-1M570.5 780v1M574.5 476v1M574.5 489v-1M574.5 780v1M578.5 476v1M578.5 489v-1M578.5 780v1M582.5 476v1M582.5 489v-1M582.5 780v1M585.5 476v1M585.5 489v-1M585.5 780v1M589.5 476v1M589.5 489v-1M589.5 780v1M593.5 476v1M593.5 489v-1M593.5 780v1M596.5 476v1M596.5 489v-1M596.5 780v1M600.5 476v1M600.5 489v-1M600.5 780v1M604.5 476v1M604.5 489v-1M604.5 780v1M607.5 476v1M607.5 489v-1M607.5 780v1M611.5 476v1M611.5 489v-1M611.5 780v1M615.5 476v1M615.5 489v-1M615.5 780v1M619.5 476v1M619.5 489v-1M619.5 780v1M622.5 476v1M622.5 489v-1M622.5 780v1M626.5 476v2M626.5 489v-2M626.5 780v2M630.5 476v1M630.5 489v-1M630.5 780v1M633.5 476v1M633.5 489v-1M633.5 780v1M637.5 476v1M637.5 489v-1M637.5 780v1M641.5 476v1M641.5 489v-1M641.5 780v1M645.5 476v1M645.5 489v-1M645.5 780v1M648.5 476v1M648.5 489v-1M648.5 780v1M652.5 476v1M652.5 489v-1M652.5 780v1M656.5 476v1M656.5 489v-1M656.5 780v1M659.5 476v1M659.5 489v-1M659.5 780v1M663.5 476v1M663.5 489v-1M663.5 780v1M667.5 476v1M667.5 489v-1M667.5 780v1M671.5 476v1M671.5 489v-1M671.5 780v1M674.5 476v1M674.5 489v-1M674.5 780v1M678.5 476v1M678.5 489v-1M678.5 780v1M682.5 476v1M682.5 489v-1M682.5 780v1M685.5 476v1M685.5 489v-1M685.5 780v1M689.5 476v1M689.5 489v-1M689.5 780v1M693.5 476v1M693.5 489v-1M693.5 780v1M696.5 476v1M696.5 489v-1M696.5 780v1M700.5 476v1M700.5 489v-1M700.5 780v1M704.5 476v2M704.5 489v-2M704.5 780v2M708.5 476v1M708.5 489v-1M708.5 780v1M711.5 476v1M711.5 489v-1M711.5 780v1M715.5 476v1M715.5 489v-1M715.5 780v1M719.5 476v1M719.5 489v-1M719.5 780v1M722.5 476v1M722.5 489v-1M722.5 780v1M726.5 476v1M726.5 489v-1M726.5 780v1M730.5 476v1M730.5 489v-1M730.5 780v1M734.5 476v1M734.5 489v-1M734.5 780v1M737.5 476v1M737.5 489v-1M737.5 780v1M741.5 476v1M741.5 489v-1M741.5 780v1" stroke="#c3c3c3" stroke-width="1" fill="none" shape-rendering="crispEdges"/>
<path d="M748 470.5h1M748 466.5h2M748 461.5h1M748 457.5h1M748 452.5h1M748 448.5h1M748 443.5h2M748 439.5h1M748 434.5h1M748 430.5h1M748 425.5h1M748 421.5h2M748 416.5h1M748 412.5h1M748 407.5h1M748 403.5h1M748 398.5h2M748 394.5h1M748 389.5h1M748 385.5h1M748 380.5h1M748 376.5h2M748 371.5h1M748 367.5h1M748 362.5h1M748 358.5h1M748 353.5h2M748 349.5h1M748 344.5h1M748 340.5h1M748 335.5h1M748 331.5h2M748 326.5h1M748 322.5h1M748 317.5h1M748 313.5h1M748 308.5h2M748 304.5h1M748 299.5h1M748 295.5h1M748 290.5h1M748 285.5h2M748 281.5h1M748 276.5h1M748 272.5h1M748 267.5h1M748 263.5h2M748 258.5h1M748 254.5h1M748 249.5h1M748 245.5h1M748 240.5h2M748 236.5h1M748 231.5h1M748 227.5h1M748 222.5h1M748 218.5h2M748 213.5h1M748 209.5h1M748 204.5h1M748 200.5h1M748 195.5h2M748 191.5h1M748 186.5h1M748 182.5h1M748 177.5h1M748 173.5h2M748 168.5h1M748 164.5h1M748 159.5h1M748 155.5h1M748 150.5h2M748 146.5h1M748 141.5h1M748 137.5h1M748 132.5h1M748 128.5h2M748 123.5h1M748 119.5h1M748 114.5h1M748 110.5h1M748 105.5h2M748 101.5h1M748 96.5h1M748 92.5h1M748 87.5h1M748 83.5h2M748 78.5h1M748 74.5h1M748 69.5h1M748 65.5h1M748 60.5h2M748 55.5h1M748 51.5h1M748 46.5h1M748 42.5h1M748 37.5h2M748 33.5h1M748 618.5h1M748 614.5h1M748 610.5h1M748 606.5h1M748 601.5h2M748 597.5h1M748 593.5h1M748 589.5h1M748 585.5h1M748 580.5h2M748 576.5h1M748 572.5h1M748 568.5h1M748 563.5h1M748 559.5h2M748 555.5h1M748 551.5h1M748 547.5h1M748 542.5h1M748 538.5h2M748 534.5h1M748 530.5h1M748 525.5h1M748 521.5h1M748 517.5h2M748 513.5h1M748 509.5h1M748 504.5h1M748 500.5h1M748 496.5h2M748 492.5h1M748 773.5h2M748 769.5h1M748 765.5h1M748 761.5h1M748 758.5h1M748 754.5h2M748 750.5h1M748 746.5h1M748 742.5h1M748 738.5h1M748 734.5h2M748 731.5h1M748 727.5h1M748 723.5h1M748 719.5h1M748 715.5h2M748 711.5h1M748 707.5h1M748 704.5h1M748 700.5h1M748 696.5h2M748 692.5h1M748 688.5h1M748 684.5h1M748 681.5h1M748 677.5h2M748 673.5h1M748 669.5h1M748 665.5h1M748 661.5h1M748 657.5h2M748 654.5h1M748 650.5h1M748 646.5h1M748 642.5h1M748 638.5h2M748 634.5h1M748 630.5h1M748 627.5h1" stroke="#c3c3c3" stroke-width="1" fill="none" shape-rendering="crispEdges"/>
<text x="750.7" y="469.8" font-size="10.1" textLength="20.8" lengthAdjust="spacing">2.00</text>
<text x="750.7" y="447.2" font-size="10.1" textLength="20.8" lengthAdjust="spacing">2.02</text>
<text x="750.7" y="424.7" font-size="10.1" textLength="20.8" lengthAdjust="spacing">2.04</text>
<text x="750.7" y="402.1" font-size="10.1" textLength="20.8" lengthAdjust="spacing">2.06</text>
<text x="750.7" y="379.6" font-size="10.1" textLength="20.8" lengthAdjust="spacing">2.08</text>
<text x="750.7" y="357.0" font-size="10.1" textLength="20.8" lengthAdjust="spacing">2.10</text>
<text x="750.7" y="334.5" font-size="10.1" textLength="20.8" lengthAdjust="spacing">2.12</text>
<text x="750.7" y="311.9" font-size="10.1" textLength="20.8" lengthAdjust="spacing">2.14</text>
<text x="750.7" y="289.4" font-size="10.1" textLength="20.8" lengthAdjust="spacing">2.16</text>
<text x="750.7" y="266.8" font-size="10.1" textLength="20.8" lengthAdjust="spacing">2.18</text>
<text x="750.7" y="244.3" font-size="10.1" textLength="20.8" lengthAdjust="spacing">2.20</text>
<text x="750.7" y="221.7" font-size="10.1" textLength="20.8" lengthAdjust="spacing">2.22</text>
<text x="750.7" y="199.2" font-size="10.1" textLength="20.8" lengthAdjust="spacing">2.24</text>
<text x="750.7" y="176.7" font-size="10.1" textLength="20.8" lengthAdjust="spacing">2.26</text>
<text x="750.7" y="154.1" font-size="10.1" textLength="20.8" lengthAdjust="spacing">2.28</text>
<text x="750.7" y="131.6" font-size="10.1" textLength="20.8" lengthAdjust="spacing">2.30</text>
<text x="750.7" y="109.0" font-size="10.1" textLength="20.8" lengthAdjust="spacing">2.32</text>
<text x="750.7" y="86.5" font-size="10.1" textLength="20.8" lengthAdjust="spacing">2.34</text>
<text x="750.7" y="63.9" font-size="10.1" textLength="20.8" lengthAdjust="spacing">2.36</text>
<text x="750.7" y="41.4" font-size="10.1" textLength="20.8" lengthAdjust="spacing">2.38</text>
<text x="755.9" y="500.5" font-size="10.1" textLength="24.9" lengthAdjust="spacing">150K</text>
<text x="755.9" y="521.6" font-size="10.1" textLength="24.9" lengthAdjust="spacing">125K</text>
<text x="755.9" y="542.8" font-size="10.1" textLength="24.9" lengthAdjust="spacing">100K</text>
<text x="751.1" y="563.5" font-size="10.1" textLength="29.7" lengthAdjust="spacing">75000</text>
<text x="751.1" y="584.3" font-size="10.1" textLength="29.7" lengthAdjust="spacing">50000</text>
<text x="751.1" y="605.2" font-size="10.1" textLength="29.7" lengthAdjust="spacing">25000</text>
<text x="750.6" y="642.4" font-size="10.1" textLength="32.6" lengthAdjust="spacing">0.0011</text>
<text x="750.6" y="661.7" font-size="10.1" textLength="32.6" lengthAdjust="spacing">0.0011</text>
<text x="750.6" y="681.3" font-size="10.1" textLength="32.6" lengthAdjust="spacing">0.0011</text>
<text x="750.6" y="700.2" font-size="10.1" textLength="32.6" lengthAdjust="spacing">0.0010</text>
<text x="750.6" y="720.3" font-size="10.1" textLength="32.6" lengthAdjust="spacing">0.0010</text>
<text x="750.6" y="739.1" font-size="10.1" textLength="32.6" lengthAdjust="spacing">0.0010</text>
<text x="750.6" y="758.8" font-size="10.1" textLength="32.6" lengthAdjust="spacing">0.0010</text>
<text x="750.6" y="777.1" font-size="10.1" textLength="32.6" lengthAdjust="spacing">0.0009</text>
<text x="70.4" y="486.7" font-size="9.6" text-anchor="middle" letter-spacing="0.45">Mar</text>
<text x="70.4" y="790.6" font-size="9.6" text-anchor="middle" letter-spacing="0.45">Mar</text>
<text x="152.0" y="486.7" font-size="9.6" text-anchor="middle" letter-spacing="0.45">Apr</text>
<text x="152.0" y="790.6" font-size="9.6" text-anchor="middle" letter-spacing="0.45">Apr</text>
<text x="229.9" y="486.7" font-size="9.6" text-anchor="middle" letter-spacing="0.45">May</text>
<text x="229.9" y="790.6" font-size="9.6" text-anchor="middle" letter-spacing="0.45">May</text>
<text x="307.8" y="486.7" font-size="9.6" text-anchor="middle" letter-spacing="0.45">Jun</text>
<text x="307.8" y="790.6" font-size="9.6" text-anchor="middle" letter-spacing="0.45">Jun</text>
<text x="389.4" y="486.7" font-size="9.6" text-anchor="middle" letter-spacing="0.45">Jul</text>
<text x="389.4" y="790.6" font-size="9.6" text-anchor="middle" letter-spacing="0.45">Jul</text>
<text x="463.6" y="486.7" font-size="9.6" text-anchor="middle" letter-spacing="0.45">Aug</text>
<text x="463.6" y="790.6" font-size="9.6" text-anchor="middle" letter-spacing="0.45">Aug</text>
<text x="548.9" y="486.7" font-size="9.6" text-anchor="middle" letter-spacing="0.45">Sep</text>
<text x="548.9" y="790.6" font-size="9.6" text-anchor="middle" letter-spacing="0.45">Sep</text>
<text x="626.8" y="486.7" font-size="9.6" text-anchor="middle" letter-spacing="0.45">Oct</text>
<text x="626.8" y="790.6" font-size="9.6" text-anchor="middle" letter-spacing="0.45">Oct</text>
<text x="704.7" y="486.7" font-size="9.6" text-anchor="middle" letter-spacing="0.45">Nov</text>
<text x="704.7" y="790.6" font-size="9.6" text-anchor="middle" letter-spacing="0.45">Nov</text>
<text x="16.5" y="13.8" font-size="14" font-weight="bold" textLength="60" lengthAdjust="spacingAndGlyphs">$COPPER</text>
<text x="81" y="13" font-size="11.3" textLength="174" lengthAdjust="spacingAndGlyphs">Copper - Continuous Contract (EOD)</text>
<text x="260.8" y="12.6" font-size="8.2" textLength="20.5" lengthAdjust="spacingAndGlyphs">CME</text>
<text x="16.3" y="25.5" font-size="9.3" textLength="53" lengthAdjust="spacingAndGlyphs">8-Nov-2016</text>
<text x="325.5" y="25.3" font-size="10.67" font-weight="bold" textLength="28.0" lengthAdjust="spacingAndGlyphs">Open</text>
<text x="357" y="25.3" font-size="10.67"  textLength="20.0" lengthAdjust="spacingAndGlyphs">2.31</text>
<text x="383.8" y="25.3" font-size="10.67" font-weight="bold" textLength="24.2" lengthAdjust="spacingAndGlyphs">High</text>
<text x="411" y="25.3" font-size="10.67"  textLength="20.0" lengthAdjust="spacingAndGlyphs">2.38</text>
<text x="437.7" y="25.3" font-size="10.67" font-weight="bold" textLength="23.1" lengthAdjust="spacingAndGlyphs">Low</text>
<text x="464" y="25.3" font-size="10.67"  textLength="21.0" lengthAdjust="spacingAndGlyphs">2.29</text>
<text x="492" y="25.3" font-size="10.67" font-weight="bold" textLength="31.0" lengthAdjust="spacingAndGlyphs">Close</text>
<text x="526.8" y="25.3" font-size="10.67"  textLength="20.2" lengthAdjust="spacingAndGlyphs">2.38</text>
<text x="554" y="25.3" font-size="10.67" font-weight="bold" textLength="42.0" lengthAdjust="spacingAndGlyphs">Volume</text>
<text x="601" y="25.3" font-size="10.67"  textLength="33.0" lengthAdjust="spacingAndGlyphs">150.8K</text>
<text x="640" y="25.3" font-size="10.67" font-weight="bold" textLength="21.5" lengthAdjust="spacingAndGlyphs">Chg</text>
<text x="664.8" y="25.3" font-size="10.67"  textLength="26.9" lengthAdjust="spacingAndGlyphs">+0.07</text>
<text x="695" y="25.3" font-size="10.67"  textLength="41.8" lengthAdjust="spacingAndGlyphs">(+3.05%)</text>
<path d="M740 24.6L743.6 20.6L747.3 24.6Z" fill="#14701a"/>
<text x="657.3" y="12.9" font-size="8.6" fill="#444">©</text>
<text x="667" y="12.7" font-size="10.4" fill="#4a4a4a" textLength="80.2" lengthAdjust="spacingAndGlyphs">StockCharts.com</text>
<path d="M20.5 32v5M19 33.5h1.5M20.5 36h1.5M23.5 33v7M22 35h1.5M23.5 38.5h1.5M26.5 32v6M25 33.5h1.5M26.5 36.5h1.5" stroke="#000" stroke-width="1" fill="none" shape-rendering="crispEdges"/>
<text x="31.3" y="39.5" font-size="10.4" style="font-family:'DejaVu Sans',Verdana,sans-serif" textLength="121" lengthAdjust="spacingAndGlyphs">$COPPER (Daily) 2.38</text>
<path d="M19 46h9" stroke="#00008b" stroke-width="2" shape-rendering="crispEdges"/>
<text x="29.5" y="49.8" font-size="10" fill="#00008b" textLength="53" lengthAdjust="spacingAndGlyphs">MA(50) 2.16</text>
<path d="M19 57h9" stroke="#0b6b0b" stroke-width="2" stroke-dasharray="2,1.5" shape-rendering="crispEdges"/>
<text x="29.5" y="60.9" font-size="10" fill="#0b6b0b" textLength="58.5" lengthAdjust="spacingAndGlyphs">MA(150) 2.15</text>
<path d="M19 68h9" stroke="#d6002f" stroke-width="2" shape-rendering="crispEdges"/>
<text x="29.5" y="71.7" font-size="10" fill="#d6002f" textLength="58.5" lengthAdjust="spacingAndGlyphs">MA(200) 2.15</text>
<path d="M19 79h9" stroke="#00008b" stroke-width="2" shape-rendering="crispEdges"/>
<text x="29.5" y="82.8" font-size="10" fill="#00008b" textLength="48.5" lengthAdjust="spacingAndGlyphs">MA(1) 2.38</text>
<path d="M19.5 495.5h2v5h-2zM22.5 492.5h2v8h-2zM25.5 493.5h2v7h-2z" fill="#7da393" stroke="#1a1a1a" stroke-width="1" shape-rendering="crispEdges"/>
<text x="31.4" y="499.6" font-size="10.4" style="font-family:'DejaVu Sans',Verdana,sans-serif" textLength="91" lengthAdjust="spacingAndGlyphs">Volume 150,776</text>
<path d="M19 507h9" stroke="#00008b" stroke-width="2" shape-rendering="crispEdges"/>
<text x="29.7" y="510.8" font-size="10" fill="#00008b" textLength="78.5" lengthAdjust="spacingAndGlyphs">MA(200) 60429.27</text>
<path d="M19 630h9" stroke="#000" stroke-width="2" shape-rendering="crispEdges"/>
<text x="31.4" y="633.6" font-size="10.4" style="font-family:'DejaVu Sans',Verdana,sans-serif" textLength="126.5" lengthAdjust="spacingAndGlyphs">$COPPER:$SPX 0.0011</text>
<path d="M19 641h9" stroke="#00008b" stroke-width="2" shape-rendering="crispEdges"/>
<text x="29.7" y="644.9" font-size="10" fill="#00008b" textLength="68.4" lengthAdjust="spacingAndGlyphs">MA(200) 0.0010</text>
</svg>
</body></html>
